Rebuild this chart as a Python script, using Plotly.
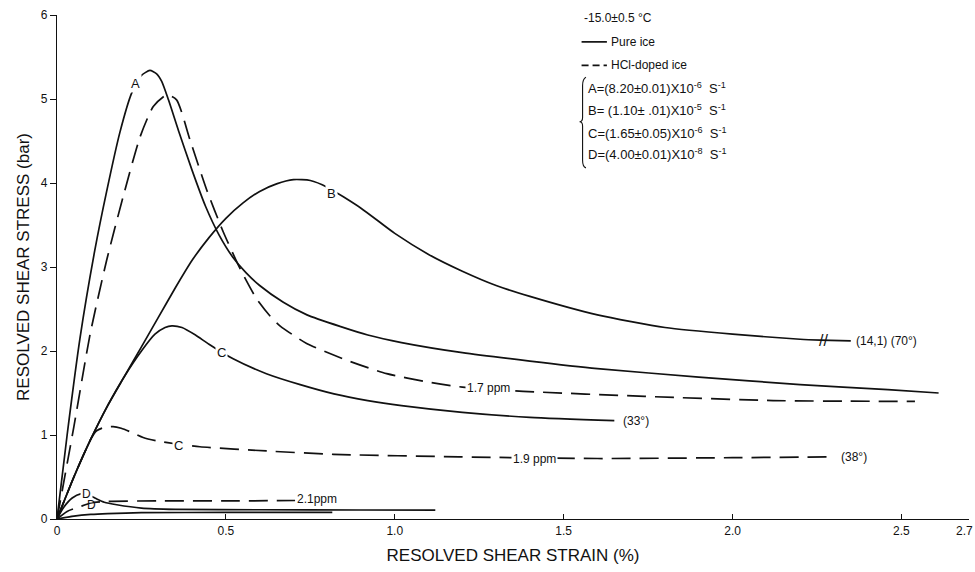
import plotly.graph_objects as go

# Resolved shear strain (%) and resolved shear stress (bar)
strain_a_pure = [0, 0.03, 0.068, 0.112, 0.147, 0.186, 0.221, 0.25, 0.275, 0.295, 0.31, 0.33, 0.36,
                 0.40, 0.44, 0.48, 0.52, 0.56, 0.60, 0.67, 0.74, 0.84, 0.92, 1.02, 1.2, 1.4, 1.6,
                 1.9, 2.2, 2.46, 2.61]
stress_a_pure = [0, 1.0, 2.15, 3.2, 3.9, 4.6, 5.07, 5.28, 5.34, 5.30, 5.21, 4.99, 4.62,
                 4.15, 3.72, 3.38, 3.12, 2.93, 2.78, 2.58, 2.43, 2.29, 2.19, 2.10, 1.98, 1.88, 1.79,
                 1.69, 1.60, 1.54, 1.50]

strain_a_hcl = [0, 0.05, 0.098, 0.147, 0.196, 0.246, 0.285, 0.325, 0.354, 0.394, 0.443, 0.492,
                0.542, 0.591, 0.63, 0.66, 0.739, 0.858, 0.976, 1.1, 1.2, 1.38, 1.74, 2.12, 2.54]
stress_a_hcl = [0, 1.1, 2.2, 3.08, 3.84, 4.55, 4.91, 5.05, 4.99, 4.51, 3.92, 3.42,
                2.98, 2.62, 2.42, 2.30, 2.09, 1.89, 1.73, 1.63, 1.57, 1.52, 1.46, 1.41, 1.40]

strain_b_pure = [0, 0.05, 0.1, 0.15, 0.2, 0.25, 0.3, 0.35, 0.4, 0.45, 0.5, 0.55, 0.6, 0.65, 0.7,
                 0.75, 0.8, 0.9, 1.0, 1.1, 1.2, 1.3, 1.4, 1.6, 1.8, 2.0, 2.2, 2.26, 2.35]
stress_b_pure = [0, 0.5, 0.95, 1.35, 1.7, 2.05, 2.4, 2.75, 3.08, 3.35, 3.58, 3.76, 3.9, 3.99, 4.04,
                 4.03, 3.95, 3.70, 3.40, 3.15, 2.95, 2.78, 2.65, 2.43, 2.28, 2.20, 2.14, 2.13, 2.12]

strain_c_pure = [0, 0.05, 0.1, 0.15, 0.2, 0.25, 0.29, 0.32, 0.34, 0.37, 0.41, 0.45, 0.52, 0.62,
                 0.72, 0.82, 0.92, 1.02, 1.2, 1.4, 1.65]
stress_c_pure = [0, 0.5, 0.95, 1.35, 1.7, 2.0, 2.2, 2.28, 2.30, 2.28, 2.19, 2.08, 1.91, 1.73,
                 1.6, 1.49, 1.41, 1.35, 1.27, 1.21, 1.17]

strain_c_hcl = [0, 0.05, 0.1, 0.117, 0.14, 0.166, 0.19, 0.216, 0.255, 0.295, 0.359, 0.423, 0.62,
                0.818, 1.19, 1.6, 2.0, 2.3]
stress_c_hcl = [0, 0.5, 0.95, 1.05, 1.09, 1.10, 1.08, 1.04, 0.97, 0.93, 0.89, 0.86, 0.81,
                0.77, 0.74, 0.72, 0.73, 0.74]

strain_d_pure = [0, 0.02, 0.045, 0.07, 0.09, 0.112, 0.14, 0.177, 0.25, 0.35, 0.6, 0.9, 1.12]
stress_d_pure = [0, 0.14, 0.25, 0.30, 0.29, 0.25, 0.20, 0.17, 0.13, 0.115, 0.11, 0.107, 0.105]

strain_d_hcl = [0, 0.03, 0.07, 0.1, 0.15, 0.3, 0.5, 0.705]
stress_d_hcl = [0, 0.09, 0.15, 0.19, 0.21, 0.215, 0.215, 0.22]

strain_d_low = [0, 0.05, 0.1, 0.15, 0.25, 0.5, 0.815]
stress_d_low = [0, 0.035, 0.055, 0.065, 0.075, 0.078, 0.078]

x_tick_vals = [0, 0.5, 1.0, 1.5, 2.0, 2.5, 2.7]
x_tick_text = ["0", "0.5", "1.0", "1.5", "2.0", "2.5", ""]
x_end_label = "2.7"
y_tick_vals = [0, 1, 2, 3, 4, 5, 6]

FONT = "Liberation Sans, Arial, sans-serif"
INK = "#111111"
DASH = "19px,9px"

curves = [
    (strain_a_pure, stress_a_pure, "solid"),
    (strain_a_hcl, stress_a_hcl, DASH),
    (strain_b_pure, stress_b_pure, "solid"),
    (strain_c_pure, stress_c_pure, "solid"),
    (strain_c_hcl, stress_c_hcl, DASH),
    (strain_d_pure, stress_d_pure, "solid"),
    (strain_d_hcl, stress_d_hcl, DASH),
    (strain_d_low, stress_d_low, "solid"),
]

fig = go.Figure()
for xs, ys, dash in curves:
    fig.add_trace(go.Scatter(
        x=xs, y=ys, mode="lines",
        line=dict(color=INK, width=1.7, dash=dash, shape="spline", smoothing=0.6),
        showlegend=False, hoverinfo="skip",
    ))

def label(x, y, text, size=13, anchor="center", bg="white"):
    fig.add_annotation(x=x, y=y, xref="x", yref="y", text=text, showarrow=False,
                       xanchor=anchor, yanchor="middle", bgcolor=bg, borderpad=1,
                       font=dict(family=FONT, size=size, color=INK))

# Curve letters and doping / orientation notes
label(0.231, 5.19, "A")
label(0.813, 3.88, "B")
label(0.488, 1.98, "C")
label(0.359, 0.88, "C")
label(0.088, 0.295, "D", size=12)
label(0.103, 0.17, "D", size=12, bg="rgba(0,0,0,0)")
label(1.276, 1.56, "1.7 ppm", size=12)
label(1.415, 0.72, "1.9 ppm", size=12)
label(0.705, 0.235, "2.1ppm", size=12, anchor="left")
label(1.67, 1.17, "(33°)", size=12, anchor="left")
label(2.315, 0.74, "(38°)", size=12, anchor="left")
label(2.36, 2.12, "(14,1) (70°)", size=12, anchor="left")
label(2.27, 2.13, "//", size=16, bg="rgba(0,0,0,0)")

# End-of-axis tick label, pulled in so it stays on the page
fig.add_annotation(x=x_tick_vals[-1], y=0, xref="x", yref="paper", text=x_end_label,
                   showarrow=False, xanchor="center", yanchor="top", xshift=-5, yshift=-3,
                   font=dict(family=FONT, size=12, color=INK))

# Key block in the upper right
key_x = 1.553
label(key_x, 5.96, "-15.0±0.5 °C", size=12, anchor="left", bg="rgba(0,0,0,0)")
fig.add_shape(type="line", xref="x", yref="y", x0=key_x, x1=1.628, y0=5.68, y1=5.68,
              line=dict(color=INK, width=1.7))
label(1.634, 5.68, "Pure ice", size=12, anchor="left", bg="rgba(0,0,0,0)")
fig.add_shape(type="line", xref="x", yref="y", x0=key_x, x1=1.628, y0=5.40, y1=5.40,
              line=dict(color=INK, width=1.7, dash="7px,4px"))
label(1.634, 5.40, "HCl-doped ice", size=12, anchor="left", bg="rgba(0,0,0,0)")
rates = [
    "A=(8.20±0.01)X10<sup>-6</sup>  S<sup>-1</sup>",
    "B= (1.10± .01)X10<sup>-5</sup>  S<sup>-1</sup>",
    "C=(1.65±0.05)X10<sup>-6</sup>  S<sup>-1</sup>",
    "D=(4.00±0.01)X10<sup>-8</sup>  S<sup>-1</sup>",
]
for text, y in zip(rates, [5.13, 4.87, 4.60, 4.34]):
    label(1.566, y, text, size=13, anchor="left", bg="rgba(0,0,0,0)")
fig.add_shape(type="path", xref="x", yref="y",
              path="M 1.566,5.26 Q 1.556,5.24 1.556,5.16 L 1.556,4.78 Q 1.556,4.73 1.547,4.73 "
                   "Q 1.556,4.73 1.556,4.68 L 1.556,4.27 Q 1.556,4.19 1.566,4.18",
              line=dict(color=INK, width=1.1))

fig.update_layout(
    width=975, height=572,
    margin=dict(l=57, r=6, t=15, b=53, autoexpand=False),
    paper_bgcolor="white", plot_bgcolor="white",
    font=dict(family=FONT, color=INK),
    xaxis=dict(
        range=[0, 2.7], tickvals=x_tick_vals, ticktext=x_tick_text, automargin=False,
        ticks="inside", ticklen=5, tickcolor=INK, showgrid=False, zeroline=False,
        showline=True, linecolor=INK, linewidth=1.2,
        tickfont=dict(family=FONT, size=12, color=INK),
        title=dict(text="RESOLVED SHEAR STRAIN (%)", standoff=12,
                   font=dict(family=FONT, size=17, color=INK)),
    ),
    yaxis=dict(
        range=[0, 6], tickvals=y_tick_vals, automargin=False,
        ticks="outside", ticklen=6, tickcolor=INK, showgrid=False, zeroline=False,
        showline=True, linecolor=INK, linewidth=1.2,
        tickfont=dict(family=FONT, size=12, color=INK),
        title=dict(text="RESOLVED SHEAR STRESS (bar)", standoff=6,
                   font=dict(family=FONT, size=17, color=INK)),
    ),
)

fig.write_html("out.html")
